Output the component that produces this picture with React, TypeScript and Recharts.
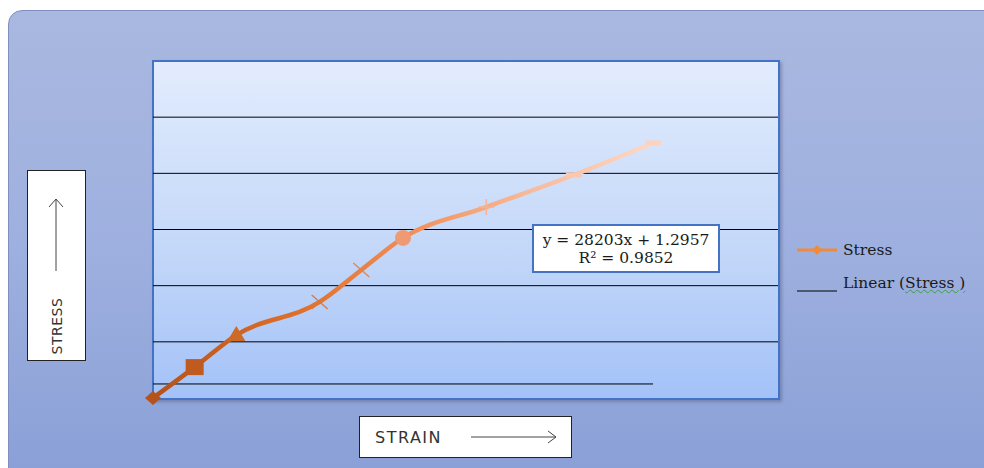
import React from "react";
import { LineChart, Line, XAxis, YAxis, ReferenceLine } from "recharts";

const strain = [0, 0.5, 1, 2, 2.5, 3, 4, 5.05, 6];
const stress = [0, 0.55, 1.12, 1.71, 2.28, 2.85, 3.4, 3.97, 4.54];
const markerKinds = ["diamond", "square", "triangle", "x", "x", "circle", "plus", "dash", "dash"];
const trendStrain = [0, 6];
const trendStress = [0.25, 0.25];
const gridValues = [1, 2, 3, 4, 5];
const equationText = "y = 28203x + 1.2957";
const r2Text = "R² = 0.9852";

const data = strain.map((x, i) => ({ strain: x, stress: stress[i], kind: markerKinds[i] }));
const trend = trendStrain.map((x, i) => ({ strain: x, trend: trendStress[i] }));

const markerColors = ["#b4531a", "#bf5b1e", "#cd6a25", "#d9773a", "#e2834a", "#f09a74", "#f7b393", "#fbc7ae", "#fcd3bf"];

const Marker = (props: any) => {
  const { cx, cy, index, payload } = props;
  if (cx == null || cy == null) return null;
  const c = markerColors[index] || "#e07a3a";
  const k = payload.kind;
  const key = "m" + index;
  if (k === "diamond") return <path key={key} d={`M${cx},${cy - 7} L${cx + 8},${cy} L${cx},${cy + 7} L${cx - 8},${cy} Z`} fill={c} />;
  if (k === "square") return <rect key={key} x={cx - 9} y={cy - 8} width={18} height={16} fill={c} />;
  if (k === "triangle") return <path key={key} d={`M${cx},${cy - 9} L${cx + 9},${cy + 6} L${cx - 9},${cy + 6} Z`} fill={c} />;
  if (k === "x")
    return (
      <g key={key} stroke={c} strokeWidth={1.2}>
        <line x1={cx - 8} y1={cy - 7} x2={cx + 8} y2={cy + 7} />
        <line x1={cx - 8} y1={cy + 7} x2={cx + 8} y2={cy - 7} />
      </g>
    );
  if (k === "circle") return <circle key={key} cx={cx} cy={cy} r={8} fill={c} />;
  if (k === "plus")
    return (
      <g key={key} stroke={c} strokeWidth={1.5}>
        <line x1={cx - 8} y1={cy} x2={cx + 8} y2={cy} />
        <line x1={cx} y1={cy - 8} x2={cx} y2={cy + 8} />
      </g>
    );
  return <rect key={key} x={cx - 8} y={cy - 2.5} width={16} height={5} fill={c} />;
};

const serif = "'DejaVu Serif', 'Liberation Serif', serif";

const LegendBox = () => (
  <div style={{ position: "absolute", left: 797, top: 240, fontFamily: serif, fontSize: 15.5, color: "#1a1a1a" }}>
    <div style={{ display: "flex", alignItems: "center", height: 20 }}>
      <svg width={42} height={12}>
        <line x1={0} y1={6} x2={40} y2={6} stroke="#f08a3c" strokeWidth={3} />
        <path d="M20,1 L25,6 L20,11 L15,6 Z" fill="#f08a3c" />
      </svg>
      <span style={{ marginLeft: 4 }}>Stress</span>
    </div>
    <div style={{ display: "flex", alignItems: "flex-end", height: 20, marginTop: 12 }}>
      <svg width={42} height={14}>
        <line x1={0} y1={13} x2={40} y2={13} stroke="#000" strokeWidth={1} />
      </svg>
      <span style={{ marginLeft: 4 }}>
        Linear (
        <span style={{ textDecoration: "underline wavy #3aa03a", textDecorationThickness: 1 }}>Stress )</span>
      </span>
    </div>
  </div>
);

export default function App() {
  return (
    <div style={{ position: "absolute", left: 0, top: 0, width: 984, height: 468, background: "#fff", overflow: "hidden" }}>
      <div
        style={{
          position: "absolute",
          left: 8,
          top: 10,
          width: 990,
          height: 470,
          borderRadius: 14,
          border: "1px solid #7f8fc0",
          background: "linear-gradient(to bottom, #a9b8e0 0%, #9eb0df 50%, #899fd6 100%)",
        }}
      />
      <div
        style={{
          position: "absolute",
          left: 152,
          top: 60,
          width: 624,
          height: 336,
          border: "2px solid #4472c4",
          background: "linear-gradient(to bottom, #e2ecfd 0%, #c7daf9 50%, #a4c2f8 100%)",
          boxShadow: "2px 2px 3px rgba(60,70,110,0.35)",
        }}
      />
      <div
        style={{
          position: "absolute",
          left: 27,
          top: 170,
          width: 57,
          height: 189,
          background: "#fff",
          border: "1px solid #222",
        }}
      >
        <svg width={57} height={189} style={{ position: "absolute", left: 0, top: 0 }}>
          <line x1={28} y1={28} x2={28} y2={100} stroke="#444" strokeWidth={1} />
          <path d="M21,36 L28,28 L35,36" fill="none" stroke="#444" strokeWidth={1} />
          <text
            x={0}
            y={0}
            transform="translate(34,155) rotate(-90)"
            textAnchor="middle"
            fontFamily="'DejaVu Sans', sans-serif"
            fontSize={14}
            letterSpacing={0.5}
            fill="#333"
          >
            STRESS
          </text>
        </svg>
      </div>
      <div
        style={{
          position: "absolute",
          left: 359,
          top: 416,
          width: 211,
          height: 40,
          background: "#fff",
          border: "1px solid #222",
        }}
      >
        <svg width={211} height={40} style={{ position: "absolute", left: 0, top: 0 }}>
          <text x={15} y={26} fontFamily="'DejaVu Sans', sans-serif" fontSize={16} letterSpacing={1.5} fill="#333">
            STRAIN
          </text>
          <line x1={111} y1={20} x2={196} y2={20} stroke="#444" strokeWidth={1} />
          <path d="M188,14 L196,20 L188,26" fill="none" stroke="#444" strokeWidth={1} />
        </svg>
      </div>
      <div style={{ position: "absolute", left: 0, top: 0 }}>
        <LineChart width={984} height={468} margin={{ top: 61, left: 153, right: 206, bottom: 70 }}>
          <defs>
            <linearGradient id="stressGrad" x1="0" y1="0" x2="1" y2="0">
              <stop offset="0%" stopColor="#b5521a" />
              <stop offset="30%" stopColor="#e0712c" />
              <stop offset="50%" stopColor="#ef8c55" />
              <stop offset="75%" stopColor="#f8b999" />
              <stop offset="100%" stopColor="#fdd8c6" />
            </linearGradient>
          </defs>
          <XAxis type="number" dataKey="strain" domain={[0, 7.5]} hide allowDuplicatedCategory={false} />
          <YAxis type="number" domain={[0, 6]} hide />
          {gridValues.map((g) => (
            <ReferenceLine key={g} y={g} stroke="#000" strokeWidth={1} ifOverflow="visible" />
          ))}
          <Line
            data={trend}
            dataKey="trend"
            name="Linear (Stress )"
            stroke="#000"
            strokeWidth={1}
            dot={false}
            activeDot={false}
            isAnimationActive={false}
          />
          <Line
            data={data}
            dataKey="stress"
            name="Stress"
            type="monotone"
            stroke="url(#stressGrad)"
            strokeWidth={4.5}
            dot={<Marker />}
            activeDot={false}
            isAnimationActive={false}
          />
        </LineChart>
      </div>
      <LegendBox />
      <div
        style={{
          position: "absolute",
          left: 532,
          top: 224,
          width: 188,
          height: 49,
          background: "#fff",
          border: "2px solid #4472c4",
          fontFamily: serif,
          fontSize: 15.5,
          color: "#1a1a1a",
          textAlign: "center",
          lineHeight: "18px",
          paddingTop: 5,
          boxSizing: "border-box",
          whiteSpace: "nowrap",
        }}
      >
        <div>{equationText}</div>
        <div>{r2Text}</div>
      </div>
    </div>
  );
}
